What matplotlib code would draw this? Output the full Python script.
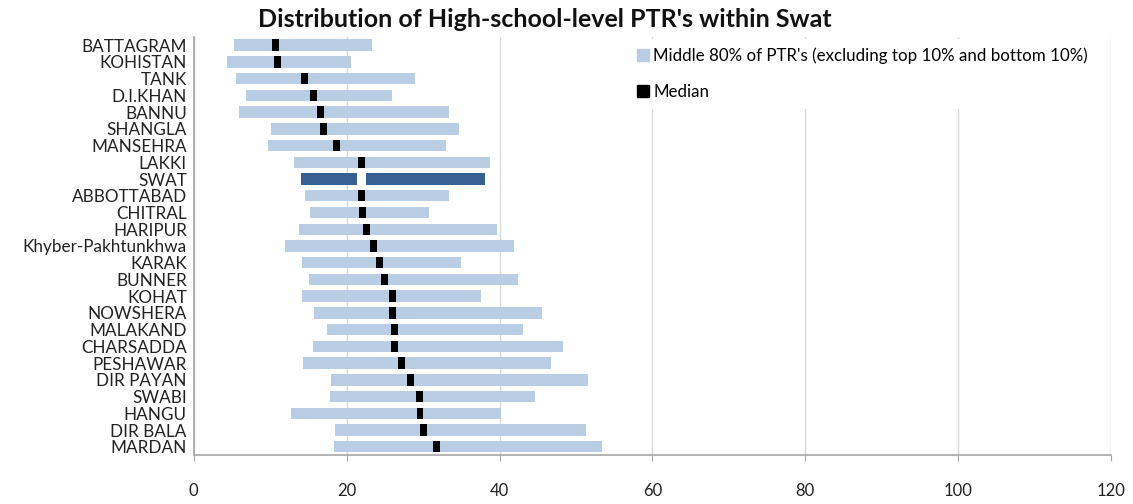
import numpy as np
import matplotlib.pyplot as plt
from matplotlib.patches import Patch

plt.rcParams['font.family'] = ['Lato', 'DejaVu Sans']

# districts, top to bottom
districts = ['BATTAGRAM', 'KOHISTAN', 'TANK', 'D.I.KHAN', 'BANNU', 'SHANGLA',
             'MANSEHRA', 'LAKKI', 'SWAT', 'ABBOTTABAD', 'CHITRAL', 'HARIPUR',
             'Khyber-Pakhtunkhwa', 'KARAK', 'BUNNER', 'KOHAT', 'NOWSHERA',
             'MALAKAND', 'CHARSADDA', 'PESHAWAR', 'DIR PAYAN', 'SWABI',
             'HANGU', 'DIR BALA', 'MARDAN']
# 10th percentile, median, 90th percentile of PTR
p10 = [5.3, 4.4, 5.5, 6.9, 5.9, 10.1, 9.7, 13.1, 14.0, 14.5, 15.2, 13.8,
       11.9, 14.2, 15.1, 14.1, 15.7, 17.4, 15.6, 14.3, 17.9, 17.8, 12.7,
       18.5, 18.3]
median = [10.7, 11.0, 14.5, 15.7, 16.6, 17.0, 18.7, 21.9, 21.95, 22.0, 22.05,
          22.6, 23.5, 24.3, 25.0, 26.0, 26.0, 26.3, 26.3, 27.2, 28.3, 29.5,
          29.6, 30.0, 31.8]
p90 = [23.3, 20.6, 29.0, 25.9, 33.4, 34.7, 33.0, 38.8, 38.1, 33.4, 30.8, 39.7,
       41.9, 34.9, 42.4, 37.6, 45.5, 43.1, 48.3, 46.7, 51.6, 44.7, 40.2,
       51.3, 53.4]
highlight = 'SWAT'

light = '#b9cde5'
dark = '#376092'
mw = 0.9  # median marker width in PTR units
bh = 0.68

fig = plt.figure(figsize=(11.33, 5.04), dpi=100)
ax = fig.add_axes([0.171, 0.097, 0.8096, 0.83])

y = np.arange(len(districts))
p10 = np.array(p10)
p90 = np.array(p90)
median = np.array(median)
colors = [dark if d == highlight else light for d in districts]
mcolors = ['white' if d == highlight else 'black' for d in districts]
mwidth = np.array([1.1 if d == highlight else mw for d in districts])

ax.barh(y, p90 - p10, left=p10, height=bh, color=colors, zorder=2)
ax.barh(y, mwidth, left=median - mwidth / 2, height=bh,
        color=mcolors, zorder=3)

ax.set_xlim(0, 120)
ax.set_ylim(len(districts) - 0.5, -0.5)
ax.set_xticks(np.arange(0, 121, 20))
ax.set_yticks(y)
ax.set_yticklabels(districts, fontsize=12.3, color='#222222')
ax.tick_params(axis='y', length=0, pad=5)
ax.tick_params(axis='x', length=4, color='#a6a6a6', pad=16, labelsize=12,
               labelcolor='#222222')
ax.grid(axis='x', color='#d9d9d9', linewidth=1, zorder=0)
ax.set_axisbelow(True)
for s in ['top', 'right']:
    ax.spines[s].set_visible(False)
for s in ['left', 'bottom']:
    ax.spines[s].set_color('#a6a6a6')
    ax.spines[s].set_linewidth(1.2)

handles = [Patch(color=light, label="Middle 80% of PTR's (excluding top 10% and bottom 10%)"),
           Patch(color='black', label='Median')]
leg = ax.legend(handles=handles, loc='upper left', bbox_to_anchor=(0.474, 0.995),
                fontsize=12.2, frameon=True, facecolor='white', edgecolor='none',
                framealpha=1, handlelength=0.7, handleheight=0.7,
                handletextpad=0.25, labelspacing=1.2, borderaxespad=0,
                borderpad=0.5, fancybox=False)
leg.set_zorder(5)

fig.suptitle("Distribution of High-school-level PTR's within Swat",
             x=0.481, y=0.985, fontsize=18, fontweight='bold', color='#111111')

fig.savefig('out.png', dpi=100)
